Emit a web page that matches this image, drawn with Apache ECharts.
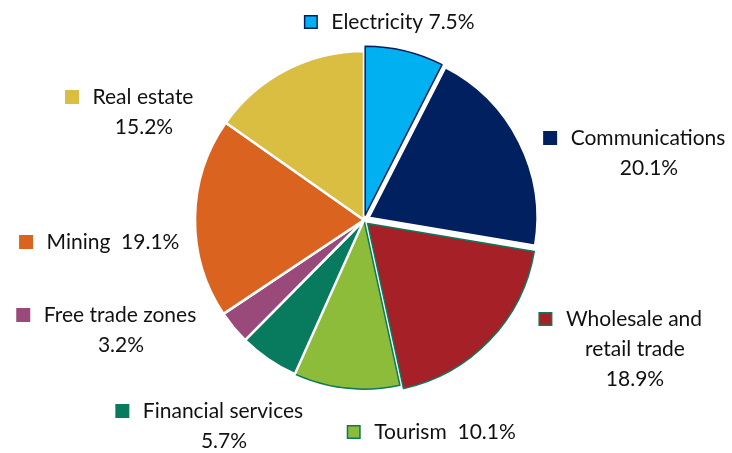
<!DOCTYPE html>
<html>
<head>
<meta charset="utf-8">
<script src="https://cdn.jsdelivr.net/npm/echarts@6/dist/echarts.min.js"></script>
<style>
  html, body { margin: 0; padding: 0; background: #fff; }
  #chart { width: 732px; height: 453px; }
</style>
</head>
<body>
<div id="chart"></div>
<script>
// data, clockwise from 12 o'clock
var sectors = ["Electricity", "Communications", "Wholesale and\nretail trade", "Tourism",
  "Financial services", "Free trade zones", "Mining", "Real estate"];
var shares = [7.5, 20.1, 18.9, 10.1, 5.7, 3.2, 19.1, 15.2];
// percent on same line or on next line
var inline = [true, false, false, true, false, false, true, false];
var pulledOut = [true, true, true, false, false, false, false, false];

var colors = ["#00b0f0", "#002060", "#a52027", "#8dbb3a", "#087b5f", "#9a4a7a", "#da641f", "#d9be42"];
var edgeColors = ["#002060", "#ffffff", "#0b7a5c", "#0b7a5c", "#ffffff", "#ffffff", "#ffffff", "#ffffff"];
// label block centres (x, y)
var labelPos = [[390, 22], [635, 153], [621, 349], [432, 432], [210, 426], [107, 330], [100, 242], [130, 112]];

var chart = echarts.init(document.getElementById("chart"));

// visible slices
var pieData = sectors.map(function (name, i) {
  return {
    name: name,
    value: shares[i],
    selected: pulledOut[i],
    itemStyle: { color: colors[i], borderColor: edgeColors[i], borderWidth: edgeColors[i] == "#ffffff" ? 2.5 : 1.5 }
  };
});

// same slices again, invisible, only to carry the labels
var labelData = sectors.map(function (name, i) {
  return {
    name: name,
    value: shares[i],
    label: {
      rich: {
        sq: { width: 11, height: 11, backgroundColor: colors[i], borderColor: i == 0 ? "#002060" : (i == 2 || i == 3 ? "#0b7a5c" : colors[i]), borderWidth: 1.5 }
      }
    }
  };
});

var option = {
  animation: false,
  series: [
    {
      type: "pie",
      center: [364, 220],
      radius: 169,
      startAngle: 90,
      selectedMode: "multiple",
      selectedOffset: 5,
      silent: true,
      data: pieData,
      label: { show: false },
      labelLine: { show: false }
    },
    {
      type: "pie",
      center: [364, 220],
      radius: 169,
      startAngle: 90,
      silent: true,
      z: 3,
      data: labelData,
      itemStyle: { color: "rgba(0,0,0,0)", borderWidth: 0 },
      labelLine: { show: false },
      label: {
        show: true,
        position: "inner",
        rotate: 0,
        overflow: "none",
        fontFamily: "Lato",
        fontSize: 21,
        color: "#111",
        lineHeight: 30,
        align: "center",
        formatter: function (p) {
          var i = p.dataIndex;
          var pct = shares[i].toFixed(1) + "%";
          var lines = p.name.split("\n");
          var out = "{sq|}{gap|}" + lines[0];
          if (inline[i]) {
            out += (i == 0 ? " " : "  ") + pct;
          } else {
            for (var k = 1; k < lines.length; k++) out += "\n{sp|}" + lines[k];
            out += "\n{sp|}" + pct;
          }
          return out;
        },
        rich: {
          gap: { width: 15 },
          sp: { width: 28 }
        }
      },
      labelLayout: function (params) {
        var p = labelPos[params.dataIndex];
        return { x: p[0], y: p[1], align: "center", verticalAlign: "middle" };
      }
    }
  ]
};

chart.setOption(option);
</script>
</body>
</html>
